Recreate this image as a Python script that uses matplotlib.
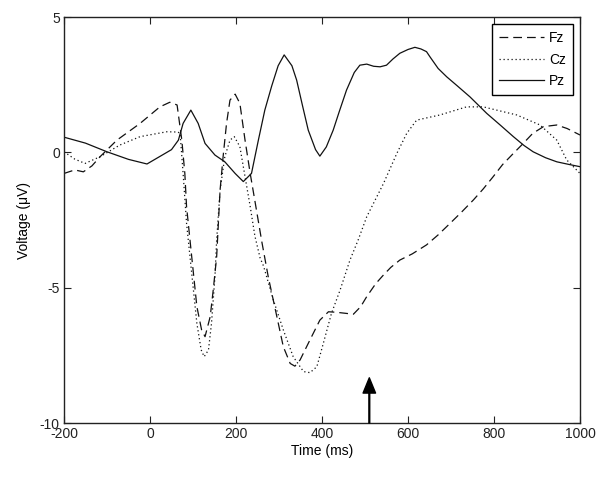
import numpy as np
import matplotlib
matplotlib.use('Agg')
import matplotlib.pyplot as plt

plt.rcParams['font.family'] = ['Liberation Sans', 'DejaVu Sans']
plt.rcParams['axes.unicode_minus'] = False

# ERP waveforms (time in ms, voltage in uV)
fz_t = [-200, -175, -155, -135, -116, -77, -23, 23, 46, 63, 74, 81, 85, 93, 101, 109,
        120, 128, 140, 147, 155, 159, 163, 170, 178, 186, 198, 209, 221, 233, 244,
        260, 275, 295, 310, 326, 337, 349, 372, 395, 415, 434, 473, 490, 504, 525,
        543, 560, 581, 610, 643, 670, 698, 725, 752, 775, 798, 820, 845, 868, 890,
        915, 946, 970, 1000]
fz_v = [-0.78, -0.65, -0.72, -0.5, -0.16, 0.45, 1.07, 1.68, 1.85, 1.75, 0.45, -0.78,
        -2.0, -3.24, -4.47, -5.7, -6.56, -6.81, -6.07, -5.09, -3.86, -2.62, -1.39,
        -0.16, 1.07, 1.93, 2.15, 1.81, 0.45, -0.78, -1.8, -3.3, -4.6, -6.07, -7.18,
        -7.8, -7.9, -7.67, -6.93, -6.2, -5.89, -5.91, -5.98, -5.7, -5.33, -4.85,
        -4.53, -4.25, -3.98, -3.75, -3.42, -3.05, -2.62, -2.2, -1.76, -1.35, -0.9,
        -0.45, -0.04, 0.33, 0.7, 0.95, 1.01, 0.88, 0.64]

cz_t = [-200, -175, -151, -116, -70, -23, 39, 65, 70, 77, 85, 97, 109, 119, 126, 136,
        143, 151, 155, 163, 174, 186, 196, 209, 221, 233, 244, 256, 264, 287, 310,
        333, 357, 372, 388, 403, 422, 442, 465, 484, 504, 543, 574, 597, 620, 674,
        736, 775, 853, 907, 946, 969, 1000]
cz_v = [0.02, -0.25, -0.41, -0.16, 0.27, 0.58, 0.76, 0.75, 0.7, -0.78, -2.62, -4.47,
        -6.32, -7.3, -7.55, -7.3, -6.32, -4.6, -3.24, -1.39, -0.16, 0.45, 0.58, 0.21,
        -0.9, -2.0, -3.1, -3.9, -4.2, -5.46, -6.56, -7.55, -8.1, -8.14, -7.92, -7.06,
        -5.95, -5.09, -3.98, -3.24, -2.38, -1.15, -0.04, 0.7, 1.19, 1.38, 1.68, 1.68,
        1.38, 1.01, 0.45, -0.28, -0.78]

pz_t = [-200, -150, -100, -50, -7, 35, 50, 66, 77, 95, 112, 128, 151, 174, 198, 217,
        236, 252, 267, 283, 298, 312, 330, 341, 355, 368, 385, 395, 410, 426, 440,
        457, 475, 488, 504, 520, 535, 550, 565, 581, 600, 616, 630, 643, 651, 670,
        690, 715, 744, 783, 815, 845, 870, 891, 920, 946, 975, 1000]
pz_v = [0.56, 0.34, 0.02, -0.26, -0.43, -0.04, 0.1, 0.45, 1.07, 1.56, 1.07, 0.33,
        -0.1, -0.35, -0.78, -1.08, -0.78, 0.45, 1.56, 2.45, 3.2, 3.6, 3.2, 2.67, 1.7,
        0.82, 0.1, -0.14, 0.2, 0.82, 1.5, 2.3, 2.95, 3.22, 3.26, 3.18, 3.16, 3.22,
        3.45, 3.66, 3.8, 3.88, 3.82, 3.72, 3.53, 3.1, 2.79, 2.45, 2.05, 1.44, 1.0,
        0.58, 0.25, 0.02, -0.2, -0.35, -0.45, -0.53]

arrow_t = 510
arrow_tip = -8.33

fig = plt.figure(figsize=(6.02, 4.79), dpi=100)
ax = fig.add_axes([0.1063, 0.1169, 0.8572, 0.8476])

ax.plot(fz_t, fz_v, color='#111111', lw=0.9, linestyle=(0, (7, 4)), label='Fz')
ax.plot(cz_t, cz_v, color='#111111', lw=0.9, linestyle=(0, (1, 2.2)), label='Cz')
ax.plot(pz_t, pz_v, color='#111111', lw=0.9, linestyle='-', label='Pz')

ax.annotate('', xy=(arrow_t, arrow_tip), xytext=(arrow_t, -10),
            arrowprops=dict(facecolor='black', edgecolor='black', width=0.6,
                            headwidth=9, headlength=11, shrink=0))

ax.set_xlim(-200, 1000)
ax.set_ylim(-10, 5)
ax.set_xticks(np.arange(-200, 1001, 200))
ax.set_yticks([-10, -5, 0, 5])
ax.tick_params(direction='in', top=True, right=True, length=5, width=0.8,
               labelsize=10, colors='#222222', pad=3)
for s in ax.spines.values():
    s.set_linewidth(1.0)
    s.set_color('#222222')

ax.set_xlabel('Time (ms)', fontsize=10, labelpad=2)
ax.set_ylabel('Voltage (\u03bcV)', fontsize=10, labelpad=6)

leg = ax.legend(loc='upper right', fontsize=10, handlelength=3.2, labelspacing=0.55,
                borderaxespad=0.5, fancybox=False, framealpha=1, handletextpad=0.4,
                borderpad=0.5)
leg.get_frame().set_edgecolor('black')
leg.get_frame().set_linewidth(1.0)

fig.savefig('out.png', dpi=100)
